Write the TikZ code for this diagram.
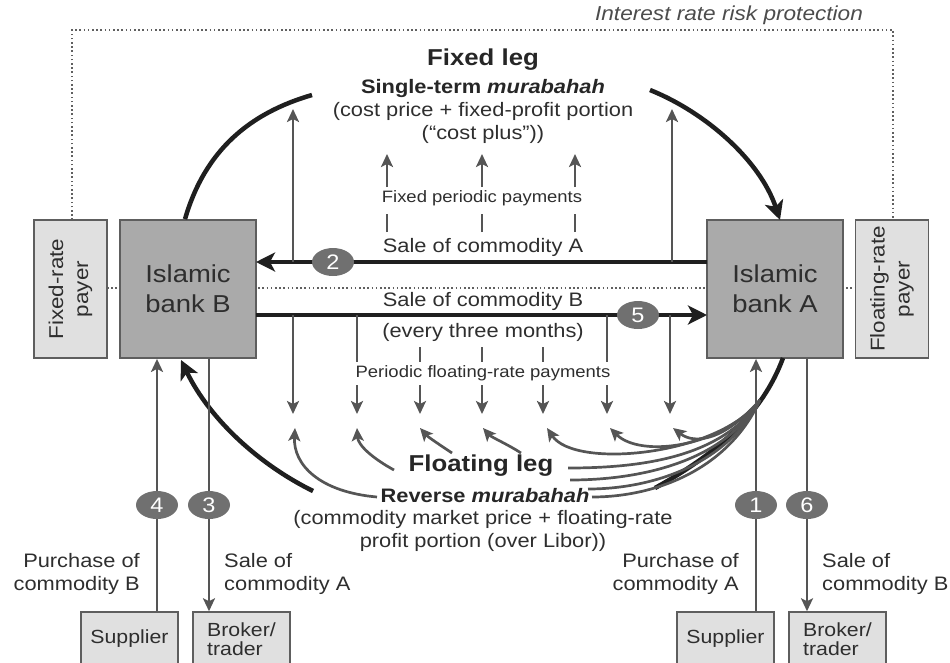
\documentclass[tikz,border=0pt]{standalone}
\usepackage{fontspec}
\setmainfont{Liberation Sans}[FakeStretch=1.12]
\usetikzlibrary{arrows.meta,shapes.geometric}
\definecolor{txt}{HTML}{2E2E2E}
\definecolor{boxline}{HTML}{5E5E5E}
\definecolor{bankfill}{HTML}{AAAAAA}
\definecolor{payfill}{HTML}{E0E0E0}
\definecolor{badgefill}{HTML}{707070}
\definecolor{arrgray}{HTML}{555555}
\definecolor{dotgray}{HTML}{606060}
\tikzset{
  bankbox/.style={draw=boxline, line width=1.8pt, fill=bankfill, minimum width=136pt, minimum height=138pt, inner sep=0pt, align=center, text=txt, font=\fontsize{24.5}{30}\selectfont},
  paybox/.style={draw=boxline, line width=1.5pt, fill=payfill, minimum width=73pt, minimum height=138pt, inner sep=0pt},
  smallbox/.style={draw=boxline, line width=1.5pt, fill=payfill, minimum width=97pt, minimum height=54pt, inner sep=0pt, text=txt, font=\fontsize{19}{19}\selectfont},
  badge/.style={ellipse, fill=badgefill, text=white, minimum width=42pt, minimum height=28pt, inner sep=0pt, font=\fontsize{21}{21}\selectfont},
  thickarr/.style={line width=4.5pt, draw=black!88, -{Stealth[length=19pt,width=19pt,inset=5pt]}},
  thickline/.style={line width=4.5pt, draw=black!88},
  grayarr/.style={line width=2.7pt, draw=arrgray, -{Stealth[length=13pt,width=12pt,inset=3pt]}},
  grayline/.style={line width=2.7pt, draw=arrgray},
  lbl/.style={text=txt, inner sep=0pt, align=center, font=\fontsize{19.5}{23.5}\selectfont},
  small/.style={text=txt, inner sep=0pt, align=center, font=\fontsize{16.5}{18}\selectfont},
  title/.style={text=black!85, inner sep=0pt, align=center, font=\fontsize{23}{26}\selectfont\bfseries},
  dotline/.style={draw=dotgray, line width=1.6pt, dash pattern=on 1.6pt off 2.6pt},
}
\begin{document}
\begin{tikzpicture}[x=1pt,y=-1pt]
\useasboundingbox (0,0) rectangle (950,662);

% protection frame
\coordinate (f1) at (72,220);
\coordinate (f2) at (72,30);
\coordinate (f3) at (893,30);
\coordinate (f4) at (893,220);
\draw[dotline] (f1) -- (f2) -- (f3) -- (f4);
\coordinate (m1) at (107,288);
\coordinate (m2) at (855,288);
\draw[dotline] (m1) -- (m2);
\node[inner sep=0pt, text=black!70, font=\fontsize{20.2}{20}\selectfont\itshape] (irp) at (729,15) {Interest rate risk protection};

% main boxes
\node[paybox] (fp) at (70.5,289) {};
\node[rotate=90, lbl, font=\fontsize{20}{25}\selectfont] (fpt) at (fp.center) {Fixed-rate\\payer};
\node[bankbox] (bB) at (188,289) {Islamic\\bank B};
\node[bankbox] (bA) at (775,289) {Islamic\\bank A};
\node[paybox] (flp) at (892,289) {};
\node[rotate=90, lbl, font=\fontsize{20}{25}\selectfont] (flpt) at (flp.center) {Floating-rate\\payer};

% fixed leg text
\node[title] (fl) at (483,60) {Fixed leg};
\node[inner sep=0pt, text=black!85, font=\fontsize{19.5}{22}\selectfont\bfseries] (stm) at (483,88) {Single-term \textit{murabahah}};
\node[lbl] (cp) at (483,123) {(cost price + fixed-profit portion\\(“cost plus”))};

% floating leg text
\node[title] (flg) at (481,466) {Floating leg};
\node[inner sep=0pt, text=black!85, font=\fontsize{19.5}{22}\selectfont\bfseries] (rm) at (485,496) {Reverse \textit{murabahah}};
\node[lbl] (cmp) at (483,531) {(commodity market price + floating-rate\\profit portion (over Libor))};

% commodity sales between banks
\coordinate (a2s) at (707,262);
\coordinate (a2e) at (256,262);
\draw[thickarr] (a2s) -- (a2e);
\coordinate (a5s) at (256,315);
\coordinate (a5e) at (707,315);
\draw[thickarr] (a5s) -- (a5e);
\node[lbl] (sA) at (483,247) {Sale of commodity A};
\node[lbl] (sB) at (483,301) {Sale of commodity B};
\node[lbl] (etm) at (483,332) {(every three months)};

% long up arrows
\coordinate (u1s) at (293,262); \coordinate (u1e) at (293,109);
\coordinate (u2s) at (672,262); \coordinate (u2e) at (672,109);
\draw[grayarr] (u1s) -- (u1e);
\draw[grayarr] (u2s) -- (u2e);

% fixed periodic payments
\node[small] (fpp) at (482,198) {Fixed periodic payments};
\foreach \x [count=\i] in {387,482,575}{
  \coordinate (fd\i a) at (\x,232); \coordinate (fd\i b) at (\x,214);
  \coordinate (fa\i a) at (\x,187); \coordinate (fa\i b) at (\x,154);
  \draw[grayline] (fd\i a) -- (fd\i b);
  \draw[grayarr] (fa\i a) -- (fa\i b);
}

% down arrows from commodity B line
\coordinate (d1s) at (293,315); \coordinate (d1e) at (293,414);
\coordinate (d7s) at (670,315); \coordinate (d7e) at (670,414);
\draw[grayarr] (d1s) -- (d1e);
\draw[grayarr] (d7s) -- (d7e);
\node[small] (pfp) at (483,373) {Periodic floating-rate payments};
\foreach \x/\t [count=\i] in {357/315,420/347,482/347,543/347,607/315}{
  \coordinate (pd\i a) at (\x,\t); \coordinate (pd\i b) at (\x,362);
  \coordinate (pa\i a) at (\x,385); \coordinate (pa\i b) at (\x,414);
  \draw[grayline] (pd\i a) -- (pd\i b);
  \draw[grayarr] (pa\i a) -- (pa\i b);
}

% badges 2 and 5
\node[badge] (b2) at (333,262) {2};
\node[badge] (b5) at (638,315) {5};

% big black arcs
\coordinate (tl) at (312,95);
\draw[thickline] (bB.north -| 185,220) .. controls (205,150) and (250,113) .. (tl);
\coordinate (tr) at (650,90);
\coordinate (trE) at (780,220);
\draw[thickarr] (tr) .. controls (705,112) and (760,160) .. (trE);
\coordinate (bl) at (313,491);
\coordinate (blE) at (181,360);
\draw[thickarr] (bl) .. controls (260,465) and (210,420) .. (blE);
\coordinate (br) at (655,488);
\coordinate (brE) at (783,358);
\draw[thickline] (br) .. controls (715,455) and (762,415) .. (brE);

% left curved arrows to payment points
\coordinate (c1) at (295,428); \coordinate (c1s) at (377,497);
\coordinate (c2) at (357,428); \coordinate (c2s) at (394,470);
\coordinate (c3) at (420,428); \coordinate (c3s) at (452,453);
\coordinate (c4) at (483,428); \coordinate (c4s) at (521,453);
\draw[grayarr] (c1s) .. controls (320,492) and (293,465) .. (c1);
\draw[grayarr] (c2s) .. controls (372,458) and (358,445) .. (c2);
\draw[grayarr] (c3s) .. controls (440,445) and (428,437) .. (c3);
\draw[grayarr] (c4s) .. controls (509,445) and (491,437) .. (c4);

% fan from bank A side
\coordinate (fan) at (760,400);
\coordinate (c5) at (547,428);
\coordinate (c6) at (610,428);
\coordinate (c7) at (673,428);
\coordinate (e1) at (568,468);
\coordinate (e2) at (570,480);
\coordinate (e3) at (588,489);
\coordinate (e4) at (592,497);
\draw[grayarr] (fan) .. controls (725,440) and (695,445) .. (c7);
\draw[grayarr] (fan) .. controls (722,448) and (640,458) .. (c6);
\draw[grayarr] (fan) .. controls (720,455) and (575,470) .. (c5);
\draw[grayline] (fan) .. controls (722,458) and (640,468) .. (e1);
\draw[grayline] (fan) .. controls (724,462) and (640,480) .. (e2);
\draw[grayline] (fan) .. controls (726,466) and (650,489) .. (e3);
\draw[grayline] (fan) .. controls (728,470) and (655,497) .. (e4);

% bottom boxes
\node[smallbox] (supB) at (129.5,639) {Supplier};
\node[smallbox, align=left] (brkB) at (241.5,639) {Broker/\\trader};
\node[smallbox] (supA) at (725.5,639) {Supplier};
\node[smallbox, align=left] (brkA) at (837.5,639) {Broker/\\trader};

% vertical flows
\draw[grayarr] (supB.north -| 157,0) -- (bB.south -| 157,0);
\draw[grayarr] (bB.south -| 209,0) -- (brkB.north -| 209,0);
\draw[grayarr] (supA.north -| 756,0) -- (bA.south -| 756,0);
\draw[grayarr] (bA.south -| 807,0) -- (brkA.north -| 807,0);
\node[badge] (b4) at (157,505) {4};
\node[badge] (b3) at (209,505) {3};
\node[badge] (b1) at (756,505) {1};
\node[badge] (b6) at (807,505) {6};

\node[lbl, align=right, anchor=east] (pB) at (140,574) {Purchase of\\commodity B};
\node[lbl, align=left, anchor=west] (sAl) at (224,574) {Sale of\\commodity A};
\node[lbl, align=right, anchor=east] (pA) at (739,574) {Purchase of\\commodity A};
\node[lbl, align=left, anchor=west] (sBl) at (822,574) {Sale of\\commodity B};
\end{tikzpicture}
\end{document}
